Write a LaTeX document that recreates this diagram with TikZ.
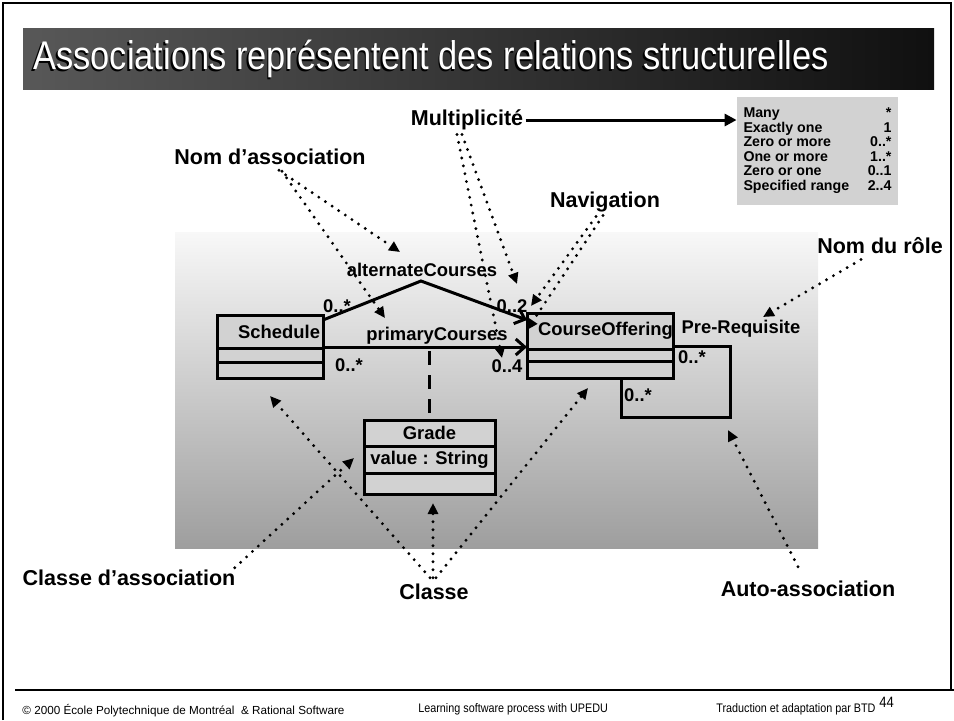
\documentclass[tikz,border=0pt]{standalone}
\usepackage{fontspec}
\setmainfont{Liberation Sans}
\newfontfamily\titlefont[FakeStretch=0.86]{Liberation Sans}
\newfontfamily\footfont[FakeStretch=0.87]{Liberation Sans}
\usetikzlibrary{arrows.meta,positioning}

\definecolor{boxgray}{RGB}{210,210,210}
\definecolor{barlight}{RGB}{88,88,88}
\definecolor{bardark}{RGB}{16,16,16}
\definecolor{bgtop}{RGB}{248,248,248}
\definecolor{bgbottom}{RGB}{158,158,158}

\tikzset{
  lbl/.style={font=\bfseries\fontsize{10.75}{12}\selectfont, inner sep=1pt},
  mlbl/.style={font=\bfseries\fontsize{9.2}{10}\selectfont, inner sep=0.5pt},
  clsbox/.style={draw, line width=1.5pt, fill=boxgray, minimum width=#1,
    outer sep=0pt, inner sep=0pt, font=\bfseries\fontsize{9.2}{10}\selectfont},
  dotarrow/.style={line width=1.6pt, line cap=round, dash pattern=on 0pt off 4pt,
    -{Triangle[length=5.5pt,width=5pt]}},
  assocline/.style={line width=1.5pt},
  navarrow/.style={-{Straight Barb[length=4.5pt,width=8pt]}},
  foottext/.style={anchor=base west, inner sep=0, font=\footfont\fontsize{6.2}{7}\selectfont},
}

\begin{document}
\begin{tikzpicture}[x=0.5pt, y=-0.5pt]

    % Page and frame
    \useasboundingbox (0,0) rectangle (954,720);
    \draw[line width=1.2pt] (3,720) -- (3,3) -- (951,3) -- (951,690);

    % Title bar
    \shade[left color=barlight, right color=bardark] (23,28) rectangle (934,89);
    \node[anchor=base west, inner sep=0, text=black,
      font=\titlefont\fontsize{20}{22}\selectfont] at (31.5,71) {Associations représentent des relations structurelles};
    \node[anchor=base west, inner sep=0, text=white,
      font=\titlefont\fontsize{20}{22}\selectfont] (title) at (33,69) {Associations représentent des relations structurelles};

    % Diagram background
    \shade[top color=bgtop, bottom color=bgbottom] (175,232) rectangle (818,548);

    % Multiplicity table
    \node[lbl] (mult) at (467,120) {Multiplicité};
    \node[fill=boxgray, minimum width=80.5pt, minimum height=54pt, inner sep=0,
      font=\bfseries\fontsize{7.1}{7.25}\selectfont] (tbl) at (817.5,151) {%
      \begin{tabular*}{74pt}{@{}l@{\extracolsep{\fill}}r@{}}
        Many & *\\
        Exactly one & 1\\
        Zero or more & 0..*\\
        One or more & 1..*\\
        Zero or one & 0..1\\
        Specified range & 2..4
      \end{tabular*}};
    \draw[line width=1.5pt, -{Triangle[length=6pt,width=6pt]}] (mult.east) -- (tbl.west |- mult.east);

    % Callout labels
    \node[lbl] (nomassoc) at (270,157) {Nom d’association};
    \node[lbl] (nav) at (605,202) {Navigation};
    \node[lbl] (nomrole) at (880,246) {Nom du rôle};
    \node[lbl] (clsassoc) at (129,578) {Classe d’association};
    \node[lbl] (classe) at (434,592) {Classe};
    \node[lbl] (auto) at (808,589) {Auto-association};

    % Classes
    \node[clsbox=53pt, minimum height=16.5pt, text width=50pt, align=right] (sched) at (270,331.5) {Schedule};
    \node[clsbox=53pt, minimum height=7pt, below=0pt of sched] (schedattr) {};
    \node[clsbox=53pt, minimum height=8pt, below=0pt of schedattr] (schedops) {};

    \node[clsbox=73pt, minimum height=18pt, text width=62pt, align=left] (course) at (600,331) {CourseOffering};
    \node[clsbox=73pt, minimum height=6pt, below=0pt of course] (courseattr) {};
    \node[clsbox=73pt, minimum height=8.5pt, below=0pt of courseattr] (courseops) {};

    \node[clsbox=65.5pt, minimum height=13pt] (grade) at (429.5,433) {Grade};
    \node[clsbox=65.5pt, minimum height=13.5pt, below=0pt of grade] (gradeattr) {value : String};
    \node[clsbox=65.5pt, minimum height=10.5pt, below=0pt of gradeattr] (gradeops) {};

    % Associations
    \coordinate (apex) at (421,281);
    \draw[assocline, navarrow] ([yshift=-2.5pt]sched.north east) -- (apex) -- ([yshift=-3.5pt]course.north west);
    \coordinate (pc) at ([yshift=0.5pt]sched.south east);
    \draw[assocline, navarrow] (pc) -- (pc -| course.west);
    \draw[line width=1.5pt, dash pattern=on 7pt off 5pt] ([yshift=-2pt]grade.north |- pc) -- (grade.north);
    \coordinate (loopc) at (730,417);
    \draw[assocline] ([yshift=1.5pt]course.south east) -| (loopc) -| ([xshift=10.5pt]courseops.south);

    % Association texts
    \node[mlbl] (altname) at (422,270) {alternateCourses};
    \node[mlbl] (primname) at (437,336) {primaryCourses};
    \node[mlbl] (prereq) at (741,329) {Pre-Requisite};
    \node[mlbl] (m1) at (337,306) {0..*};
    \node[mlbl] (m2) at (512,306) {0..2};
    \node[mlbl] (m3) at (349,365) {0..*};
    \node[mlbl] (m4) at (507,366) {0..4};
    \node[mlbl] (m5) at (692,357) {0..*};
    \node[mlbl] (m6) at (638,395) {0..*};

    % Arrow tips
    \coordinate (t1) at (400,252);
    \coordinate (t2) at (385,318);
    \coordinate (t3) at (517,284);
    \coordinate (t4) at (502,358);
    \coordinate (t5) at (531,306);
    \coordinate (t6) at (527,330);
    \coordinate (t7) at (763,317);
    \coordinate (t8) at (354,458);
    \coordinate (t9) at (270,396);
    \coordinate (t10) at (433,503);
    \coordinate (t11) at (588,388);
    \coordinate (t12) at (728,430);

    % Dotted callouts
    \draw[dotarrow] ([xshift=4.5pt,yshift=-1.5pt]nomassoc.south) -- (t1);
    \draw[dotarrow] ([xshift=6pt,yshift=-2pt]nomassoc.south) -- (t2);
    \draw[dotarrow] ([xshift=-2.5pt,yshift=-1pt]mult.south) -- (t3);
    \draw[dotarrow] ([xshift=-5pt,yshift=-1pt]mult.south) -- (t4);
    \draw[dotarrow] ([xshift=-4.5pt,yshift=-1pt]nav.south) -- (t5);
    \draw[dotarrow] ([xshift=-1pt,yshift=-0.5pt]nav.south) -- (t6);
    \draw[dotarrow] ([xshift=-9.5pt,yshift=-1.5pt]nomrole.south) -- (t7);
    \draw[dotarrow] ([xshift=-1.5pt]clsassoc.north east) -- (t8);
    \draw[dotarrow] ([xshift=-2pt,yshift=2pt]classe.north) -- (t9);
    \draw[dotarrow] ([xshift=-0.5pt,yshift=2pt]classe.north) -- (t10);
    \draw[dotarrow] ([xshift=1pt,yshift=2pt]classe.north) -- (t11);
    \draw[dotarrow] ([xshift=-5pt,yshift=6pt]auto.north) -- (t12);

    % Footer
    \draw[line width=0.8pt] (15,690) -- (954,690);
    \node[anchor=base west, inner sep=0, font=\fontsize{5.85}{7}\selectfont] (foot1) at (22,714) {© 2000 École Polytechnique de Montréal \ \& Rational Software};
    \node[foottext] (foot2) at (418,712) {Learning software process with UPEDU};
    \node[foottext] (foot3) at (716,712) {Traduction et adaptation par BTD};
    \node[anchor=base west, inner sep=0, font=\footfont\fontsize{7.5}{8}\selectfont] (pagenum) at (879,707) {44};

\end{tikzpicture}
\end{document}
